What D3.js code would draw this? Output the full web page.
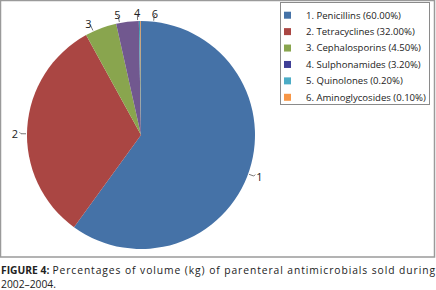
<!DOCTYPE html>
<html lang="en">
<head>
    <meta charset="UTF-8">
    <title>Parenteral antimicrobials pie</title>
    <script src="https://d3js.org/d3.v7.min.js"></script>
    <style>
        body { margin: 0; background: #fff; }
        svg text { font-family: "Open Sans", sans-serif; fill: #222; }
        .slice-label { font-size: 11px; }
        .caption { font-size: 10.3px; }
    </style>
</head>
<body>
    <script>
        const categories = ["Penicillins", "Tetracyclines", "Cephalosporins", "Sulphonamides", "Quinolones", "Aminoglycosides"];
        const shares = [60.0, 32.0, 4.5, 3.2, 0.2, 0.1];
        // numbers printed beside the slices, as they appear in the figure
        const sliceLabels = ["1", "2", "3", "5", "4", "6"];
        const sliceColors = ["#4572a7", "#aa4643", "#89a54e", "#71588f", "#4198af", "#db843d"];
        const legendColors = ["#4572a7", "#aa4643", "#89a54e", "#3f3f96", "#4bacc6", "#f79646"];
        const labelNudge = [2, -3, -4, -4, -1, 6.5]; // degrees, keeps tiny slice labels apart
        const captionHead = "FIGURE 4:";
        const captionLines = ["Percentages of volume (kg) of parenteral antimicrobials sold during", "2002\u20132004."];

        const width = 436, height = 290;
        const cx = 141, cy = 135, r = 114;

        const svg = d3.select("body").append("svg")
            .attr("width", width)
            .attr("height", height);

        // chart frame
        svg.append("rect")
            .attr("x", 0.5).attr("y", 0.5)
            .attr("width", 434).attr("height", 256.5)
            .attr("fill", "none")
            .attr("stroke", "#9a9a9a")
            .attr("stroke-width", 1.5);

        const data = categories.map((c, i) => ({ name: c, value: shares[i], i: i }));
        const pie = d3.pie().value(d => d.value).sort(null);
        const arcs = pie(data);
        const arc = d3.arc().innerRadius(0).outerRadius(r);

        const g = svg.append("g").attr("transform", `translate(${cx},${cy})`);
        g.selectAll("path")
            .data(arcs)
            .enter().append("path")
            .attr("d", arc)
            .attr("fill", d => sliceColors[d.data.i])
            .attr("stroke", "none");

        // labels with short leader lines
        const polar = (a, rad) => [Math.sin(a) * rad, -Math.cos(a) * rad];
        arcs.forEach((d, i) => {
            const mid = (d.startAngle + d.endAngle) / 2 + labelNudge[i] * Math.PI / 180;
            const p1 = polar(mid, r + 1);
            const p2 = polar(mid, r + 6);
            g.append("polyline")
                .attr("points", [p1, p2, [p2[0] + Math.sign(p2[0]) * 1.5, p2[1] - 1.5]].map(p => p.join(",")).join(" "))
                .attr("fill", "none")
                .attr("stroke", "#555")
                .attr("stroke-width", 0.8);
            const t = polar(mid, r + 8);
            g.append("text")
                .attr("class", "slice-label")
                .attr("x", t[0] + Math.sin(mid) * 4).attr("y", t[1])
                .attr("text-anchor", "middle")
                .attr("dy", "0.35em")
                .text(sliceLabels[i]);
        });

        // legend
        const legend = svg.append("g").attr("class", "legend");
        legend.append("rect")
            .attr("x", 280.5).attr("y", 2.5)
            .attr("width", 149).attr("height", 102)
            .attr("fill", "#fff")
            .attr("stroke", "#8a8a8a");

        const ly = d3.scaleBand().domain(d3.range(categories.length)).range([7, 105.5]);
        const rows = categories.map((c, i) => {
            const row = legend.append("g")
                .attr("transform", `translate(284, ${ly(i) + ly.bandwidth() / 2})`);
            row.append("rect")
                .attr("x", 0).attr("y", -3.5)
                .attr("width", 7).attr("height", 7)
                .attr("fill", legendColors[i]);
            return row.append("text")
                .attr("x", 22).attr("dy", "0.35em")
                .style("font-size", "10px")
                .text(`${i + 1}. ${c} (${shares[i].toFixed(2)}%)`);
        });
        // fit the longest entry to the box (about 120px wide)
        const longest = d3.max(rows, t => t.node().getComputedTextLength());
        const fs = Math.min(11, 10 * 120 / longest);
        rows.forEach(t => t.style("font-size", fs + "px"));

        // caption
        const head = svg.append("text").attr("class", "caption")
            .attr("x", 1).attr("y", 273.5)
            .attr("font-weight", "bold")
            .text(captionHead);
        const headW = head.node().getComputedTextLength();
        svg.append("text").attr("class", "caption")
            .attr("x", 1 + headW + 3).attr("y", 273.5)
            .attr("textLength", 434 - headW - 3).attr("lengthAdjust", "spacing")
            .text(captionLines[0]);
        svg.append("text").attr("class", "caption")
            .attr("x", 1).attr("y", 288)
            .text(captionLines[1]);
    </script>
</body>
</html>
